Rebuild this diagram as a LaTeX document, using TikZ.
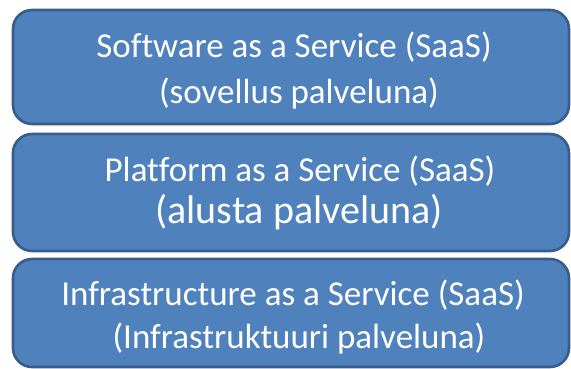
\documentclass[tikz,border=0pt]{standalone}
\usepackage{fontspec}
\setmainfont{Carlito}[Ligatures=NoCommon]
\begin{document}
\begin{tikzpicture}[x=1pt,y=-1pt,
  layer/.style={draw=layerEdge,line width=2.6pt,fill=layerFill,rounded corners=19pt},
  caption/.style={anchor=base,inner sep=0pt,text=white,font=\fontsize{35}{41}\selectfont},
  bigcaption/.style={caption,font=\fontsize{40}{47}\selectfont}]
\definecolor{layerFill}{RGB}{79,129,189}
\definecolor{layerEdge}{RGB}{56,93,138}
\useasboundingbox (0,0) rectangle (571,369);
\fill[white] (0,0) rectangle (571,369);

% three service layers, top to bottom
\draw[layer] (13,10) rectangle (569,124);
\draw[layer] (13,134) rectangle (569,251);
\draw[layer] (13,259) rectangle (569,367);

\node[caption] (saas1) at (294,58) {Software as a Service (SaaS)};
\node[caption] (saas2) at (299,103) {(sovellus palveluna)};

\node[caption] (paas1) at (300,182) {Platform as a Service (SaaS)};
\node[bigcaption] (paas2) at (299,223) {(alusta palveluna)};

\node[caption] (iaas1) at (293,305) {Infrastructure as a Service (SaaS)};
\node[caption] (iaas2) at (299,348) {(Infrastruktuuri palveluna)};
\end{tikzpicture}
\end{document}
